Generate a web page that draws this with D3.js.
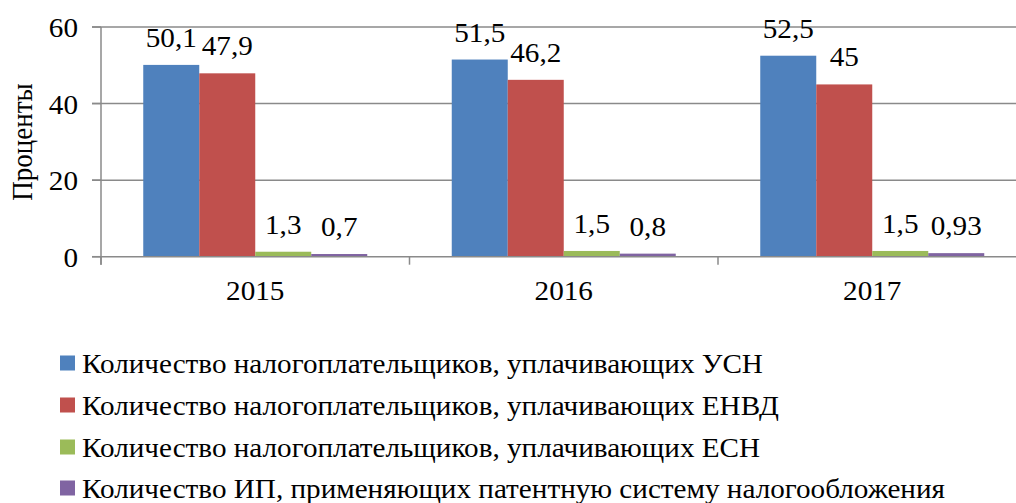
<!DOCTYPE html>
<html><head><meta charset="utf-8">
<script src="https://cdn.jsdelivr.net/npm/d3@7"></script>
<style>
html,body{margin:0;padding:0;background:#fff;}
</style></head><body>
<svg id="chart" width="1016" height="503" style="font-family:'Liberation Serif'"></svg>
<script>
const categories = ["2015", "2016", "2017"];
const seriesNames = [
  "Количество налогоплательщиков, уплачивающих УСН",
  "Количество налогоплательщиков, уплачивающих ЕНВД",
  "Количество налогоплательщиков, уплачивающих ЕСН",
  "Количество ИП, применяющих патентную систему налогообложения"
];
const usnValues = [50.1, 51.5, 52.5];
const envdValues = [47.9, 46.2, 45];
const esnValues = [1.3, 1.5, 1.5];
const patentValues = [0.7, 0.8, 0.93];
const valueLabels = [
  ["50,1", "51,5", "52,5"],
  ["47,9", "46,2", "45"],
  ["1,3", "1,5", "1,5"],
  ["0,7", "0,8", "0,93"]
];
const yTicks = [0, 20, 40, 60];
const colors = ["#4F81BD", "#C0504D", "#9BBB59", "#8064A2"];

const allSeries = [usnValues, envdValues, esnValues, patentValues];

const svg = d3.select("#chart");
const pLeft = 101, pRight = 1026.5, pTop = 27, pBottom = 256.7;
const fs = 27, sx = 1.08;
const tf = (px, py) => `translate(${px},${py}) scale(${sx},1)`;

const x = d3.scaleBand().domain(categories).range([pLeft, pRight]).paddingInner(0).paddingOuter(0);
const bandW = x.bandwidth();
const barGroupW = bandW * 224 / 308.5;
const x1 = d3.scaleBand().domain(d3.range(4)).range([(bandW - barGroupW) / 2, (bandW + barGroupW) / 2]).padding(0);
const y = d3.scaleLinear().domain([0, 60]).range([pBottom, pTop]);

const gridColor = "#8a8a8a";
svg.append("g").selectAll("line").data(yTicks.filter(d => d !== 0)).join("line")
  .attr("x1", pLeft - 9).attr("x2", 1016)
  .attr("y1", d => y(d)).attr("y2", d => y(d))
  .attr("stroke", gridColor).attr("stroke-width", 1.5);

const groups = svg.append("g").selectAll("g").data(categories).join("g")
  .attr("transform", d => `translate(${x(d)},0)`);
const rowData = (c, i) => allSeries.map((s, k) => ({k, v: s[i], label: valueLabels[k][i]}));
groups.selectAll("rect").data(rowData).join("rect")
  .attr("x", d => x1(d.k)).attr("width", x1.bandwidth())
  .attr("y", d => y(d.v)).attr("height", d => y(0) - y(d.v))
  .attr("fill", d => colors[d.k]);

groups.selectAll("text").data(rowData).join("text")
  .attr("transform", d => tf(x1(d.k) + x1.bandwidth() / 2, y(d.v) - 18))
  .attr("text-anchor", "middle")
  .attr("font-size", fs)
  .text(d => d.label);

const xAxis = svg.append("g").attr("transform", `translate(0,${pBottom})`);
xAxis.append("line").attr("x1", pLeft - 9).attr("x2", 1016).attr("y1", 0).attr("y2", 0)
  .attr("stroke", gridColor).attr("stroke-width", 1.5);
xAxis.selectAll("line.tick").data(categories).join("line").attr("class", "tick")
  .attr("x1", d => x(d)).attr("x2", d => x(d)).attr("y1", 0).attr("y2", 8)
  .attr("stroke", gridColor).attr("stroke-width", 1.5);
xAxis.selectAll("text").data(categories).join("text")
  .attr("transform", d => tf(x(d) + bandW / 2, 43))
  .attr("text-anchor", "middle").attr("font-size", fs).text(d => d);

const yAxis = svg.append("g");
yAxis.append("line").attr("x1", pLeft).attr("x2", pLeft).attr("y1", pTop).attr("y2", pBottom + 8)
  .attr("stroke", gridColor).attr("stroke-width", 1.5);
yAxis.selectAll("line.tick").data(yTicks).join("line").attr("class", "tick")
  .attr("x1", pLeft - 9).attr("x2", pLeft).attr("y1", d => y(d)).attr("y2", d => y(d))
  .attr("stroke", gridColor).attr("stroke-width", 1.5);
yAxis.selectAll("text").data(yTicks).join("text")
  .attr("transform", d => tf(78, y(d) + 10))
  .attr("text-anchor", "end").attr("font-size", fs).text(d => d);

svg.append("text")
  .attr("transform", `translate(32,142) rotate(-90) scale(1,${sx})`)
  .attr("text-anchor", "middle").attr("font-size", fs).text("Проценты");

const legendY = [363, 405, 447, 488];
const lg = svg.append("g").selectAll("g").data(seriesNames).join("g")
  .attr("transform", (d, i) => `translate(60,${legendY[i]})`);
lg.append("rect").attr("x", 0).attr("y", -7.5).attr("width", 15).attr("height", 15)
  .attr("fill", (d, i) => colors[i]);
lg.append("text").attr("transform", tf(22, 10)).attr("font-size", fs).text(d => d);
</script>
</body></html>
